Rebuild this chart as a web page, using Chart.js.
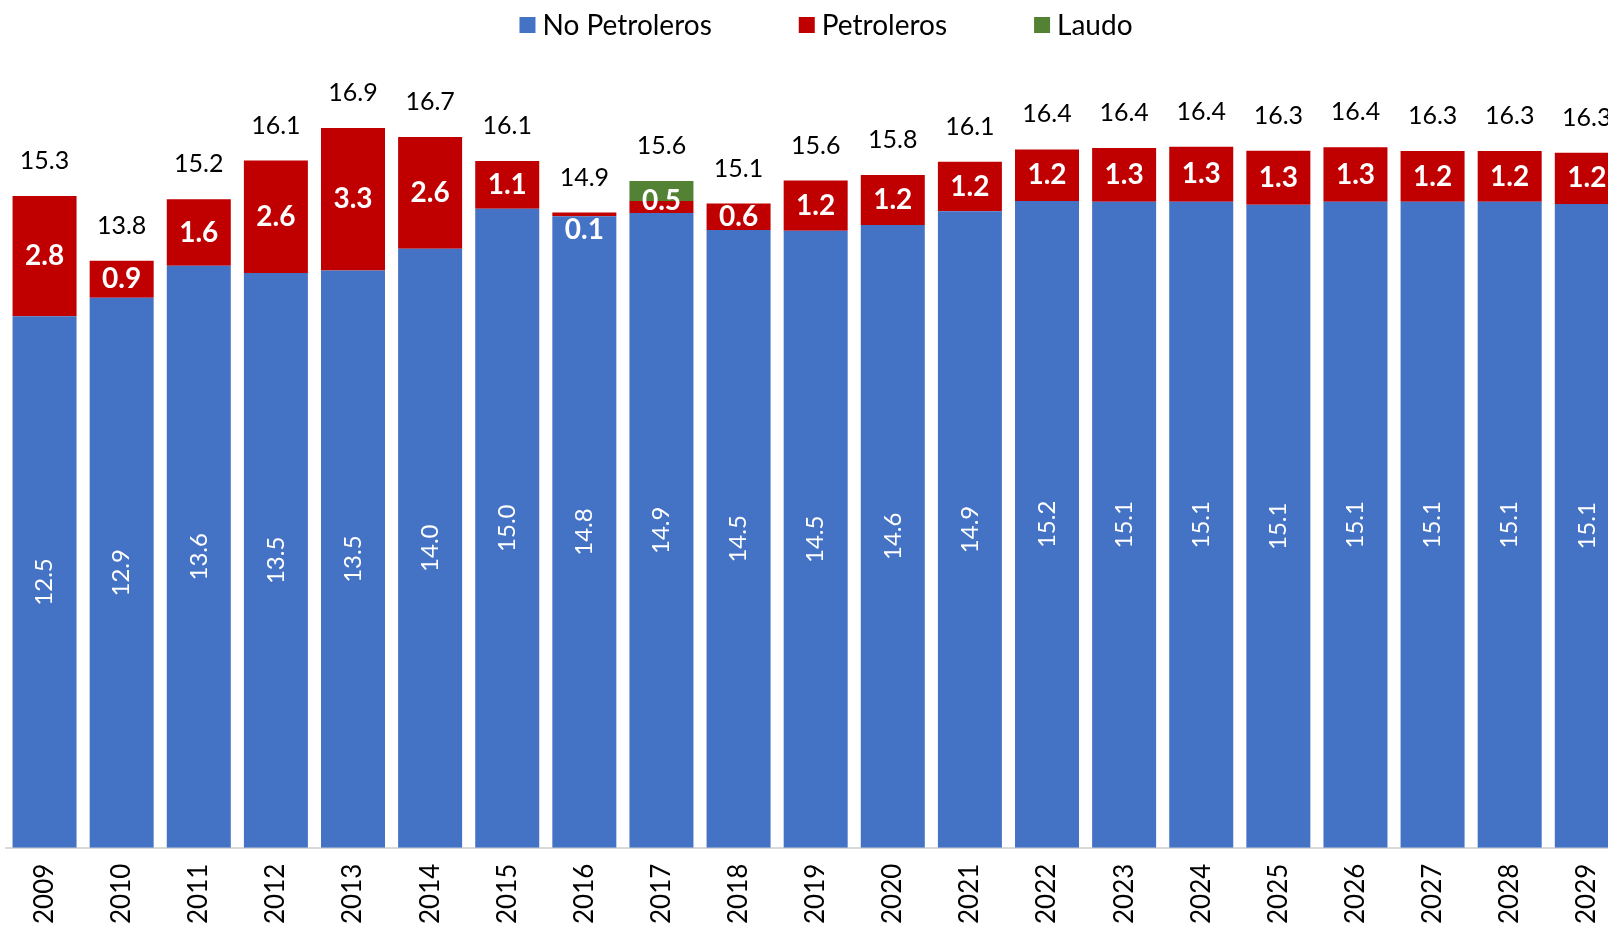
<!DOCTYPE html>
<html>
<head>
<meta charset="utf-8">
<script src="https://cdn.jsdelivr.net/npm/chart.js@4.4.1/dist/chart.umd.min.js"></script>
<style>
  html, body { margin: 0; padding: 0; background: #fff; overflow: hidden; }
  #contenedor { position: absolute; left: 0; top: 0; width: 1626px; height: 932px; }
</style>
</head>
<body>
<div id="contenedor"><canvas id="plot1"></canvas></div>
<script>
const anios = ['2009', '2010', '2011', '2012', '2013', '2014', '2015', '2016', '2017', '2018', '2019',
    '2020', '2021', '2022', '2023', '2024', '2025', '2026', '2027', '2028', '2029'];

const noPetroleros = [12.46, 12.89, 13.64, 13.47, 13.53, 14.04, 14.98, 14.80, 14.88, 14.48, 14.46,
    14.60, 14.92, 15.16, 15.14, 15.14, 15.07, 15.14, 15.14, 15.14, 15.09];

const petroleros = [2.82, 0.87, 1.56, 2.64, 3.34, 2.62, 1.12, 0.09, 0.28, 0.62, 1.18,
    1.17, 1.16, 1.21, 1.26, 1.29, 1.27, 1.28, 1.19, 1.19, 1.20];

const laudo = [0, 0, 0, 0, 0, 0, 0, 0, 0.47, 0, 0,
    0, 0, 0, 0, 0, 0, 0, 0, 0, 0];

const colores = ['#4472C4', '#C00000', '#548235'];
const fuente = 'Lato';

let ctx = document.getElementById('plot1').getContext('2d');

/* etiquetas de cada segmento y del total */
const etiquetas = {
    id: 'etiquetas',
    afterDatasetsDraw(chart) {
        const c = chart.ctx;
        const azul = chart.getDatasetMeta(0).data;
        const rojo = chart.getDatasetMeta(1).data;
        const verde = chart.getDatasetMeta(2).data;
        c.save();
        c.textAlign = 'center';
        c.textBaseline = 'middle';
        for (let i = 0; i < anios.length; i++) {
            // no petroleros, texto vertical
            const b = azul[i];
            c.save();
            c.translate(b.x, (b.y + b.base) / 2);
            c.rotate(-Math.PI / 2);
            c.fillStyle = '#fff';
            c.font = '24px ' + fuente;
            c.fillText(noPetroleros[i].toFixed(1), 0, 0);
            c.restore();

            // petroleros
            const r = rojo[i];
            c.fillStyle = '#fff';
            c.font = 'bold 28px ' + fuente;
            if (laudo[i] == 0) {
                if (r.base - r.y < 14) {
                    c.fillText(petroleros[i].toFixed(1), r.x, r.base + 14);
                } else {
                    c.fillText(petroleros[i].toFixed(1), r.x, (r.y + r.base) / 2);
                }
            }

            // laudo
            if (laudo[i] > 0) {
                const g = verde[i];
                c.fillText(laudo[i].toFixed(1), g.x, g.base);
            }

            // total
            const total = noPetroleros[i] + petroleros[i] + laudo[i];
            const arriba = Math.min(b.y, r.y, verde[i].y);
            c.fillStyle = '#000';
            c.font = '25px ' + fuente;
            c.fillText(total.toFixed(1), b.x, arriba - 35);
        }
        c.restore();
    }
};

/* leyenda propia para poder separar las entradas */
const leyenda = {
    id: 'leyenda',
    afterDraw(chart) {
        const c = chart.ctx;
        c.save();
        c.font = '28px ' + fuente;
        c.textBaseline = 'middle';
        c.textAlign = 'left';
        const caja = 16, sep = 7, hueco = 87;
        const items = chart.data.datasets.map(d => ({
            texto: d.label,
            color: d.backgroundColor,
            ancho: c.measureText(d.label).width
        }));
        let totalAncho = items.reduce((s, it) => s + caja + sep + it.ancho, 0) + hueco * (items.length - 1);
        let x = chart.width / 2 + 13 - totalAncho / 2;
        const y = 25;
        items.forEach(it => {
            c.fillStyle = it.color;
            c.fillRect(x, y - caja / 2, caja, caja);
            c.fillStyle = '#000';
            c.fillText(it.texto, x + caja + sep, y + 1);
            x += caja + sep + it.ancho + hueco;
        });
        c.restore();
    }
};

let grafica1 = new Chart(ctx, {
    type: 'bar',
    data: {
        labels: anios,
        datasets: [
            { label: 'No Petroleros', data: noPetroleros, backgroundColor: colores[0] },
            { label: 'Petroleros', data: petroleros, backgroundColor: colores[1] },
            { label: 'Laudo', data: laudo, backgroundColor: colores[2] }
        ]
    },
    options: {
        responsive: true,
        maintainAspectRatio: false,
        animation: false,
        layout: { padding: { left: 6, right: 0, top: 50, bottom: 0 } },
        datasets: { bar: { categoryPercentage: 1, barPercentage: 0.83 } },
        plugins: {
            legend: { display: false },
            tooltip: { enabled: false }
        },
        scales: {
            x: {
                stacked: true,
                grid: { display: false },
                border: { display: true, color: '#d9d9d9', width: 2 },
                ticks: {
                    color: '#000',
                    font: { family: fuente, size: 26 },
                    minRotation: 90,
                    maxRotation: 90,
                    padding: 8,
                    autoSkip: false
                }
            },
            y: {
                stacked: true,
                display: false,
                min: 0,
                max: 18.7
            }
        }
    },
    plugins: [etiquetas, leyenda]
});
</script>
</body>
</html>
